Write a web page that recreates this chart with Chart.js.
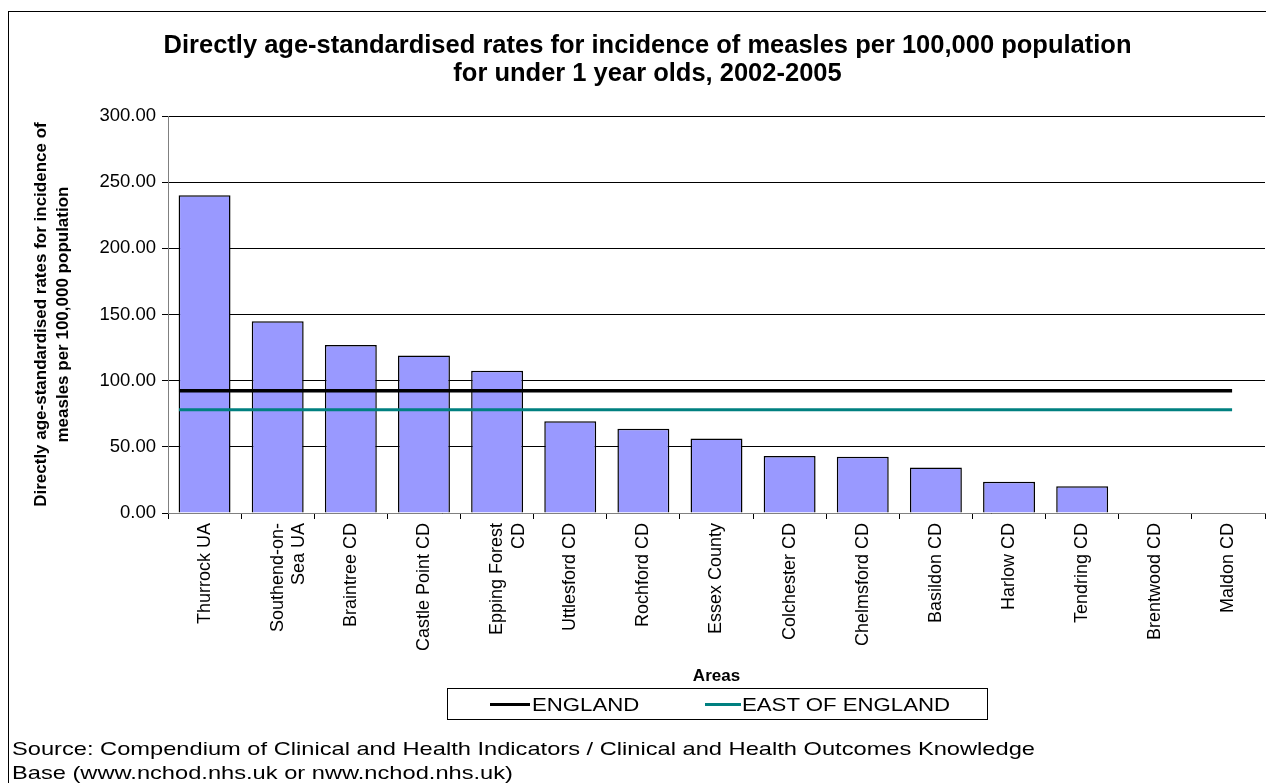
<!DOCTYPE html>
<html lang="en">
  <head>
    <meta charset="UTF-8" />
    <title>Measles incidence, under 1 year olds</title>
    <script src="https://cdn.jsdelivr.net/npm/chart.js"></script>
    <style>
      body {
        margin: 0;
        background: #ffffff;
        font-family: "Liberation Sans", Arial, sans-serif;
      }
      .frame {
        position: absolute;
        left: 8px;
        top: 11px;
        width: 1258px;
        height: 772px;
        border-left: 1px solid #000;
        border-top: 1px solid #000;
        box-sizing: border-box;
      }
      .chart-box {
        position: absolute;
        left: 8px;
        top: 11px;
        width: 1258px;
        height: 772px;
      }
      .legend {
        position: absolute;
        left: 447px;
        top: 688px;
        width: 541px;
        height: 32px;
        border: 1px solid #000;
        box-sizing: border-box;
        font-size: 18.5px;
      }
      .legend span {
        position: absolute;
        top: 5px;
        transform: scaleX(1.2);
        transform-origin: left center;
      }
      .legend i {
        position: absolute;
        height: 3px;
        top: 14px;
      }
      .source {
        position: absolute;
        left: 12px;
        top: 737px;
        font-size: 19px;
        line-height: 24px;
        color: #000;
        white-space: nowrap;
        transform: scaleX(1.245);
        transform-origin: left top;
      }
    </style>
  </head>
  <body>
    <div class="frame"></div>
    <div class="chart-box"><canvas id="measlesChart"></canvas></div>

    <!-- legend for the two reference lines -->
    <div class="legend">
      <i style="left: 42px; width: 40px; background: #000"></i>
      <span style="left: 84px">ENGLAND</span>
      <i style="left: 257px; width: 36px; background: #008080"></i>
      <span style="left: 294px">EAST OF ENGLAND</span>
    </div>

    <div class="source">
      Source: Compendium of Clinical and Health Indicators / Clinical and Health Outcomes Knowledge<br />
      Base (www.nchod.nhs.uk or nww.nchod.nhs.uk)
    </div>

    <script>
      const areas = [
        "Thurrock UA",
        ["Southend-on-", "Sea UA"],
        "Braintree CD",
        "Castle Point CD",
        ["Epping Forest", "CD"],
        "Uttlesford CD",
        "Rochford CD",
        "Essex County",
        "Colchester CD",
        "Chelmsford CD",
        "Basildon CD",
        "Harlow CD",
        "Tendring CD",
        "Brentwood CD",
        "Maldon CD",
      ];
      const rates = [240.2, 144.9, 126.9, 119.1, 107.6, 69.4, 63.7, 56.4, 43.0, 42.5, 34.4, 23.6, 20.3, 0, 0];
      const englandRate = 92.4;
      const eastOfEnglandRate = 78.1;
      // reference lines run from the first bar's left edge to just past the last category
      const refLineSpan = [-0.35, 14.05];
      const yTicks = [0, 50, 100, 150, 200, 250, 300];

      const font = "'Liberation Sans', Arial, sans-serif";

      const refLine = (value) => refLineSpan.map((x) => ({ x: x, y: value }));

      new Chart(document.getElementById("measlesChart"), {
        data: {
          labels: areas,
          datasets: [
            {
              type: "line",
              label: "ENGLAND",
              xAxisID: "xLine",
              data: refLine(englandRate),
              borderColor: "#000000",
              borderWidth: 3.5,
              pointRadius: 0,
              order: 1,
            },
            {
              type: "line",
              label: "EAST OF ENGLAND",
              xAxisID: "xLine",
              data: refLine(eastOfEnglandRate),
              borderColor: "#008080",
              borderWidth: 3,
              pointRadius: 0,
              order: 1,
            },
            {
              type: "bar",
              label: "Rate",
              xAxisID: "x",
              data: rates,
              backgroundColor: "#9999ff",
              borderColor: "#000000",
              borderWidth: 1.5,
              grouped: false,
              barPercentage: 0.71,
              categoryPercentage: 1,
              order: 2,
            },
          ],
        },
        options: {
          responsive: true,
          maintainAspectRatio: false,
          animation: false,
          layout: {
            padding: { left: 22, right: 1, top: 0, bottom: 94 },
          },
          plugins: {
            legend: { display: false },
            tooltip: { enabled: false },
            title: {
              display: true,
              text: [
                "Directly age-standardised rates for incidence of measles per 100,000 population",
                "for under 1 year olds, 2002-2005",
              ],
              color: "#000",
              font: { family: font, size: 25.5, weight: "bold", lineHeight: 1.1 },
              padding: { top: 21, bottom: 28 },
            },
          },
          scales: {
            x: {
              type: "category",
              offset: true,
              grid: {
                display: true,
                drawOnChartArea: false,
                drawTicks: true,
                tickLength: 6,
                color: "#000",
              },
              border: { display: true, color: "#808080", width: 1 },
              ticks: {
                color: "#000",
                font: { family: font, size: 18 },
                minRotation: 90,
                maxRotation: 90,
                autoSkip: false,
                padding: 4,
              },
              title: {
                display: true,
                text: "Areas",
                color: "#000",
                font: { family: font, size: 17, weight: "bold" },
                padding: { top: 0, bottom: 2 },
              },
              afterFit: (scale) => {
                scale.height = 176;
              },
            },
            xLine: {
              type: "linear",
              display: false,
              min: -0.5,
              max: areas.length - 0.5,
            },
            y: {
              min: yTicks[0],
              max: yTicks[yTicks.length - 1],
              afterBuildTicks: (scale) => {
                scale.ticks = yTicks.map((v) => ({ value: v }));
              },
              grid: {
                color: "#000",
                lineWidth: 1,
                tickLength: 6,
              },
              border: { display: true, color: "#808080", width: 1 },
              ticks: {
                color: "#000",
                font: { family: font, size: 18.5 },
                padding: 6,
                callback: (v) => Number(v).toFixed(2),
              },
              title: {
                display: true,
                text: [
                  "Directly age-standardised rates for incidence of",
                  "measles per 100,000 population",
                ],
                color: "#000",
                font: { family: font, size: 17, weight: "bold", lineHeight: 1.3 },
                padding: 0,
              },
              afterFit: (scale) => {
                scale.width = 138;
              },
            },
          },
        },
      });
    </script>
  </body>
</html>
